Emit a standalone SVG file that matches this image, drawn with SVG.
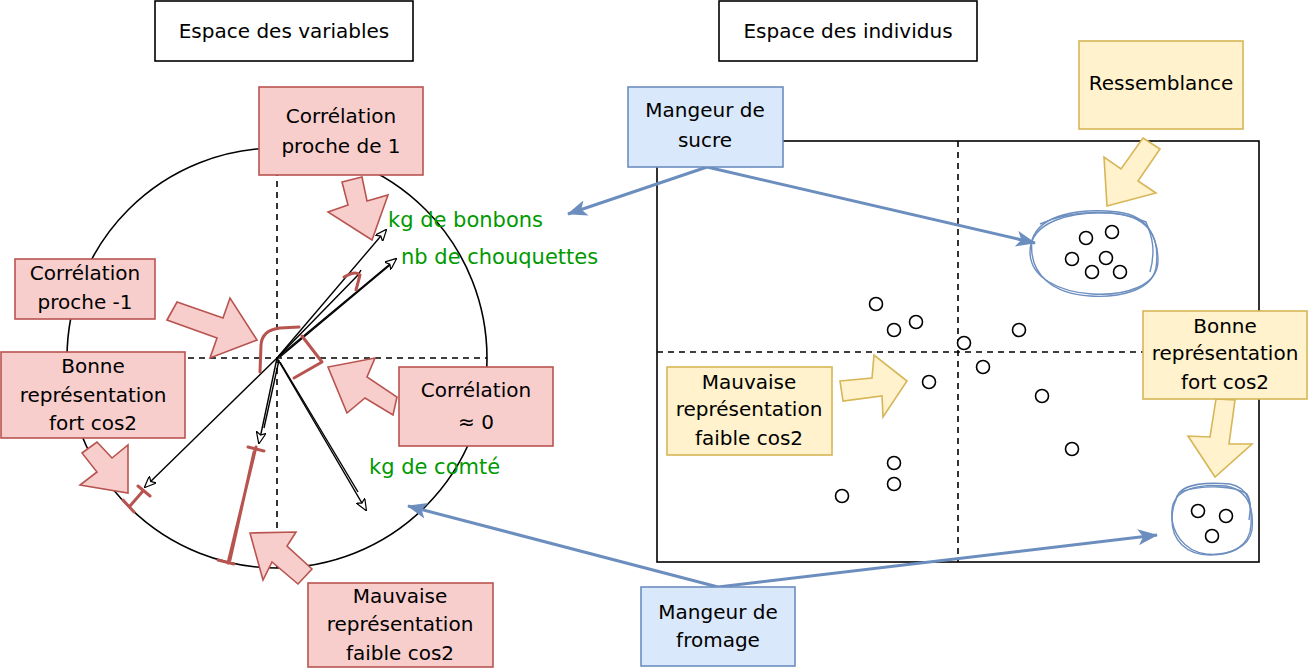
<svg xmlns="http://www.w3.org/2000/svg" width="1310" height="670" viewBox="0 0 1310 670">
<style>
  text { font-family: "DejaVu Sans", "Liberation Sans", sans-serif; font-size: 20px; fill: #000; text-anchor: middle; }
  .g { fill: #009900; text-anchor: start; font-size: 21px; }
  .plain { fill: #ffffff; stroke: #000; stroke-width: 1.6; }
  .red { fill: #f8cecc; stroke: #b85450; stroke-width: 1.6; }
  .blue { fill: #dae8fc; stroke: #6c8ebf; stroke-width: 1.6; }
  .yel { fill: #fff2cc; stroke: #d6b656; stroke-width: 1.6; }
  .dash { stroke: #000; stroke-width: 1.6; stroke-dasharray: 6 5; fill: none; }
  .blk { stroke: #000; stroke-width: 1.4; fill: none; }
  .rmark { stroke: #b85450; stroke-width: 3; fill: none; stroke-linecap: round; stroke-linejoin: round; }
  .barrow { stroke: #6c8ebf; stroke-width: 3; fill: none; }
  .blob { stroke: #6c8ebf; stroke-width: 1.4; fill: none; }
  .dot { fill: #fff; stroke: #000; stroke-width: 1.6; }
</style>
<defs>
  <marker id="open" viewBox="0 0 12 10" refX="11" refY="5" markerWidth="12" markerHeight="10" markerUnits="userSpaceOnUse" orient="auto">
    <path d="M0,0 L12,5 L0,10 L3,5 z" fill="#fff" stroke="#000" stroke-width="1.2"/>
  </marker>
  <marker id="bl" viewBox="0 0 20 16" refX="19" refY="8" markerWidth="20" markerHeight="16" markerUnits="userSpaceOnUse" orient="auto">
    <path d="M0,0 L20,8 L0,16 L5,8 z" fill="#6c8ebf"/>
  </marker>
</defs>
<rect width="1310" height="670" fill="#fff"/>

<!-- left circle & axes -->
<g id="cercle">
  <circle cx="277" cy="358" r="210" fill="none" stroke="#000" stroke-width="1.6"/>
  <line class="dash" x1="67" y1="358" x2="487" y2="358"/>
  <line class="dash" x1="277" y1="148" x2="277" y2="568"/>
</g>

<!-- right panel -->
<g id="plan-individus">
  <rect x="657" y="141" width="602" height="421" fill="none" stroke="#000" stroke-width="1.6"/>
  <line class="dash" x1="657" y1="352" x2="1259" y2="352"/>
  <line class="dash" x1="958" y1="141" x2="958" y2="562"/>
</g>

<g id="individus">
  <circle class="dot" cx="876" cy="304" r="6.5"/>
  <circle class="dot" cx="894" cy="330" r="6.5"/>
  <circle class="dot" cx="916" cy="322" r="6.5"/>
  <circle class="dot" cx="964" cy="343" r="6.5"/>
  <circle class="dot" cx="1019" cy="330" r="6.5"/>
  <circle class="dot" cx="983" cy="367" r="6.5"/>
  <circle class="dot" cx="929" cy="382" r="6.5"/>
  <circle class="dot" cx="1042" cy="396" r="6.5"/>
  <circle class="dot" cx="1072" cy="449" r="6.5"/>
  <circle class="dot" cx="894" cy="463" r="6.5"/>
  <circle class="dot" cx="894" cy="484" r="6.5"/>
  <circle class="dot" cx="842" cy="496" r="6.5"/>
  <circle class="dot" cx="1086" cy="238" r="6.5"/>
  <circle class="dot" cx="1112" cy="232" r="6.5"/>
  <circle class="dot" cx="1072" cy="259" r="6.5"/>
  <circle class="dot" cx="1106" cy="258" r="6.5"/>
  <circle class="dot" cx="1092" cy="272" r="6.5"/>
  <circle class="dot" cx="1120" cy="272" r="6.5"/>
  <circle class="dot" cx="1198" cy="511" r="6.5"/>
  <circle class="dot" cx="1226" cy="516" r="6.5"/>
  <circle class="dot" cx="1212" cy="536" r="6.5"/>
</g>

<g id="groupe-sucre">
  <path class="blob" d="M1032,240 C1040,214 1080,208 1118,212 C1150,216 1160,240 1156,268 C1152,290 1120,298 1090,296 C1055,294 1028,276 1032,240 Z"/>
  <path class="blob" d="M1030,252 C1030,222 1070,211 1110,213 C1148,215 1158,236 1158,262 C1157,286 1125,296 1092,294 C1060,292 1030,278 1030,252 Z"/>
  <path class="blob" d="M1040,224 C1075,208 1120,210 1146,222 C1152,236 1156,250 1150,272"/>
</g>
<g id="groupe-fromage">
  <path class="blob" d="M1176,500 C1178,484 1205,482 1230,484 C1250,488 1252,505 1251,525 C1250,546 1232,555 1210,555 C1186,555 1172,540 1172,520 C1172,510 1174,504 1176,500 Z"/>
  <path class="blob" d="M1172,510 C1174,488 1200,484 1226,486 C1248,490 1254,508 1252,530 C1249,548 1228,556 1206,554 C1184,551 1170,532 1172,510 Z"/>
  <path class="blob" d="M1180,492 C1205,484 1235,486 1247,494 C1252,502 1250,512 1249,520"/>
</g>

<!-- connectors -->
<g id="connecteurs">
  <!-- black vectors -->
  <path class="blk" d="M277,358 L386,230" marker-end="url(#open)"/>
  <path class="blk" d="M279,356 L358,275 L361,270"/>
  <path class="blk" d="M277,358 L396,259" marker-end="url(#open)"/>
  <path class="blk" d="M280,357 L390,265"/>
  <path class="blk" d="M277,358 L145,487" marker-end="url(#open)"/>
  <path class="blk" d="M277,358 L259,443" marker-end="url(#open)"/>
  <path class="blk" d="M279,360 L264,428"/>
  <path class="blk" d="M277,358 L366,510" marker-end="url(#open)"/>
  <path class="blk" d="M280,362 L358,492"/>

  <!-- red marks -->
  <path class="rmark" d="M260,372 L261,345 Q262,330 280,328 L299,327"/>
  <path class="rmark" d="M302,336 L322,362 L294,378"/>
  <path class="rmark" d="M344,277 Q356,270 360,275 L356,290"/>
  <path class="rmark" d="M228,563 L256,447 M230,560 L254,452"/>
  <path class="rmark" d="M218,560 L234,564 M248,447 L264,451"/>
  <path class="rmark" d="M130,506 L143,491 M123,500 L134,512 M138,486 L150,496"/>

  <!-- red block arrows -->
  <polygon class="red" points="342,182 362,177 367,201 388,195 372,240 328,212 348,205"/>
  <polygon class="red" points="167,320 177,302 223,318 230,298 257,340 210,358 217,338"/>
  <polygon class="red" points="397,397 393,415 365,398 347,413 328,367 375,358 367,377"/>
  <polygon class="red" points="82,453 97,442 112,458 128,445 128,493 80,485 97,472"/>
  <polygon class="red" points="250,533 296,532 287,546 312,569 298,584 272,562 263,580"/>

  <!-- yellow block arrows -->
  <polygon class="yel" points="1143,138 1160,149 1138,181 1156,193 1107,206 1104,157 1121,169"/>
  <polygon class="yel" points="1216,399 1235,400 1229,444 1252,444 1215,477 1188,436 1210,437"/>
  <polygon class="yel" points="840,381 872,378 874,355 907,381 883,417 882,396 843,401"/>

  <!-- blue arrows -->
  <path class="barrow" d="M707,167 L568,214" marker-end="url(#bl)"/>
  <path class="barrow" d="M707,167 L1035,243" marker-end="url(#bl)"/>
  <path class="barrow" d="M718,587 L408,506" marker-end="url(#bl)"/>
  <path class="barrow" d="M718,587 L1157,535" marker-end="url(#bl)"/>
</g>

<!-- titles -->
<g id="titre-variables">
  <rect class="plain" x="155" y="1" width="258" height="60"/>
  <text x="284" y="38">Espace des variables</text>
</g>
<g id="titre-individus">
  <rect class="plain" x="719" y="1" width="258" height="60"/>
  <text x="848" y="38">Espace des individus</text>
</g>

<!-- red boxes -->
<g id="corr-1">
  <rect class="red" x="259" y="87" width="164" height="88"/>
  <text x="341" y="123">Corrélation</text>
  <text x="341" y="153">proche de 1</text>
</g>
<g id="corr-moins1">
  <rect class="red" x="15" y="259" width="140" height="60"/>
  <text x="85" y="280">Corrélation</text>
  <text x="85" y="309">proche -1</text>
</g>
<g id="bonne-rep-var">
  <rect class="red" x="1" y="352" width="184" height="86"/>
  <text x="93" y="373">Bonne</text>
  <text x="93" y="402">représentation</text>
  <text x="93" y="430">fort cos2</text>
</g>
<g id="corr-0">
  <rect class="red" x="399" y="367" width="154" height="79"/>
  <text x="476" y="397">Corrélation</text>
  <text x="476" y="429">≈ 0</text>
</g>
<g id="mauvaise-rep-var">
  <rect class="red" x="308" y="583" width="185" height="84"/>
  <text x="400" y="603">Mauvaise</text>
  <text x="400" y="631">représentation</text>
  <text x="400" y="660">faible cos2</text>
</g>

<!-- green labels -->
<g id="lbl-bonbons"><text class="g" x="388" y="227">kg de bonbons</text></g>
<g id="lbl-chouquettes"><text class="g" x="401" y="264">nb de chouquettes</text></g>
<g id="lbl-comte"><text class="g" x="369" y="474">kg de comté</text></g>

<!-- blue boxes -->
<g id="mangeur-sucre">
  <rect class="blue" x="628" y="87" width="155" height="80"/>
  <text x="705" y="117">Mangeur de</text>
  <text x="705" y="147">sucre</text>
</g>
<g id="mangeur-fromage">
  <rect class="blue" x="641" y="587" width="154" height="79"/>
  <text x="718" y="619">Mangeur de</text>
  <text x="718" y="647">fromage</text>
</g>

<!-- yellow boxes -->
<g id="ressemblance">
  <rect class="yel" x="1079" y="41" width="164" height="88"/>
  <text x="1161" y="90">Ressemblance</text>
</g>
<g id="bonne-rep-ind">
  <rect class="yel" x="1143" y="311" width="164" height="88"/>
  <text x="1225" y="333">Bonne</text>
  <text x="1225" y="360">représentation</text>
  <text x="1225" y="389">fort cos2</text>
</g>
<g id="mauvaise-rep-ind">
  <rect class="yel" x="667" y="367" width="165" height="88"/>
  <text x="749" y="389">Mauvaise</text>
  <text x="749" y="416">représentation</text>
  <text x="749" y="445">faible cos2</text>
</g>
</svg>
